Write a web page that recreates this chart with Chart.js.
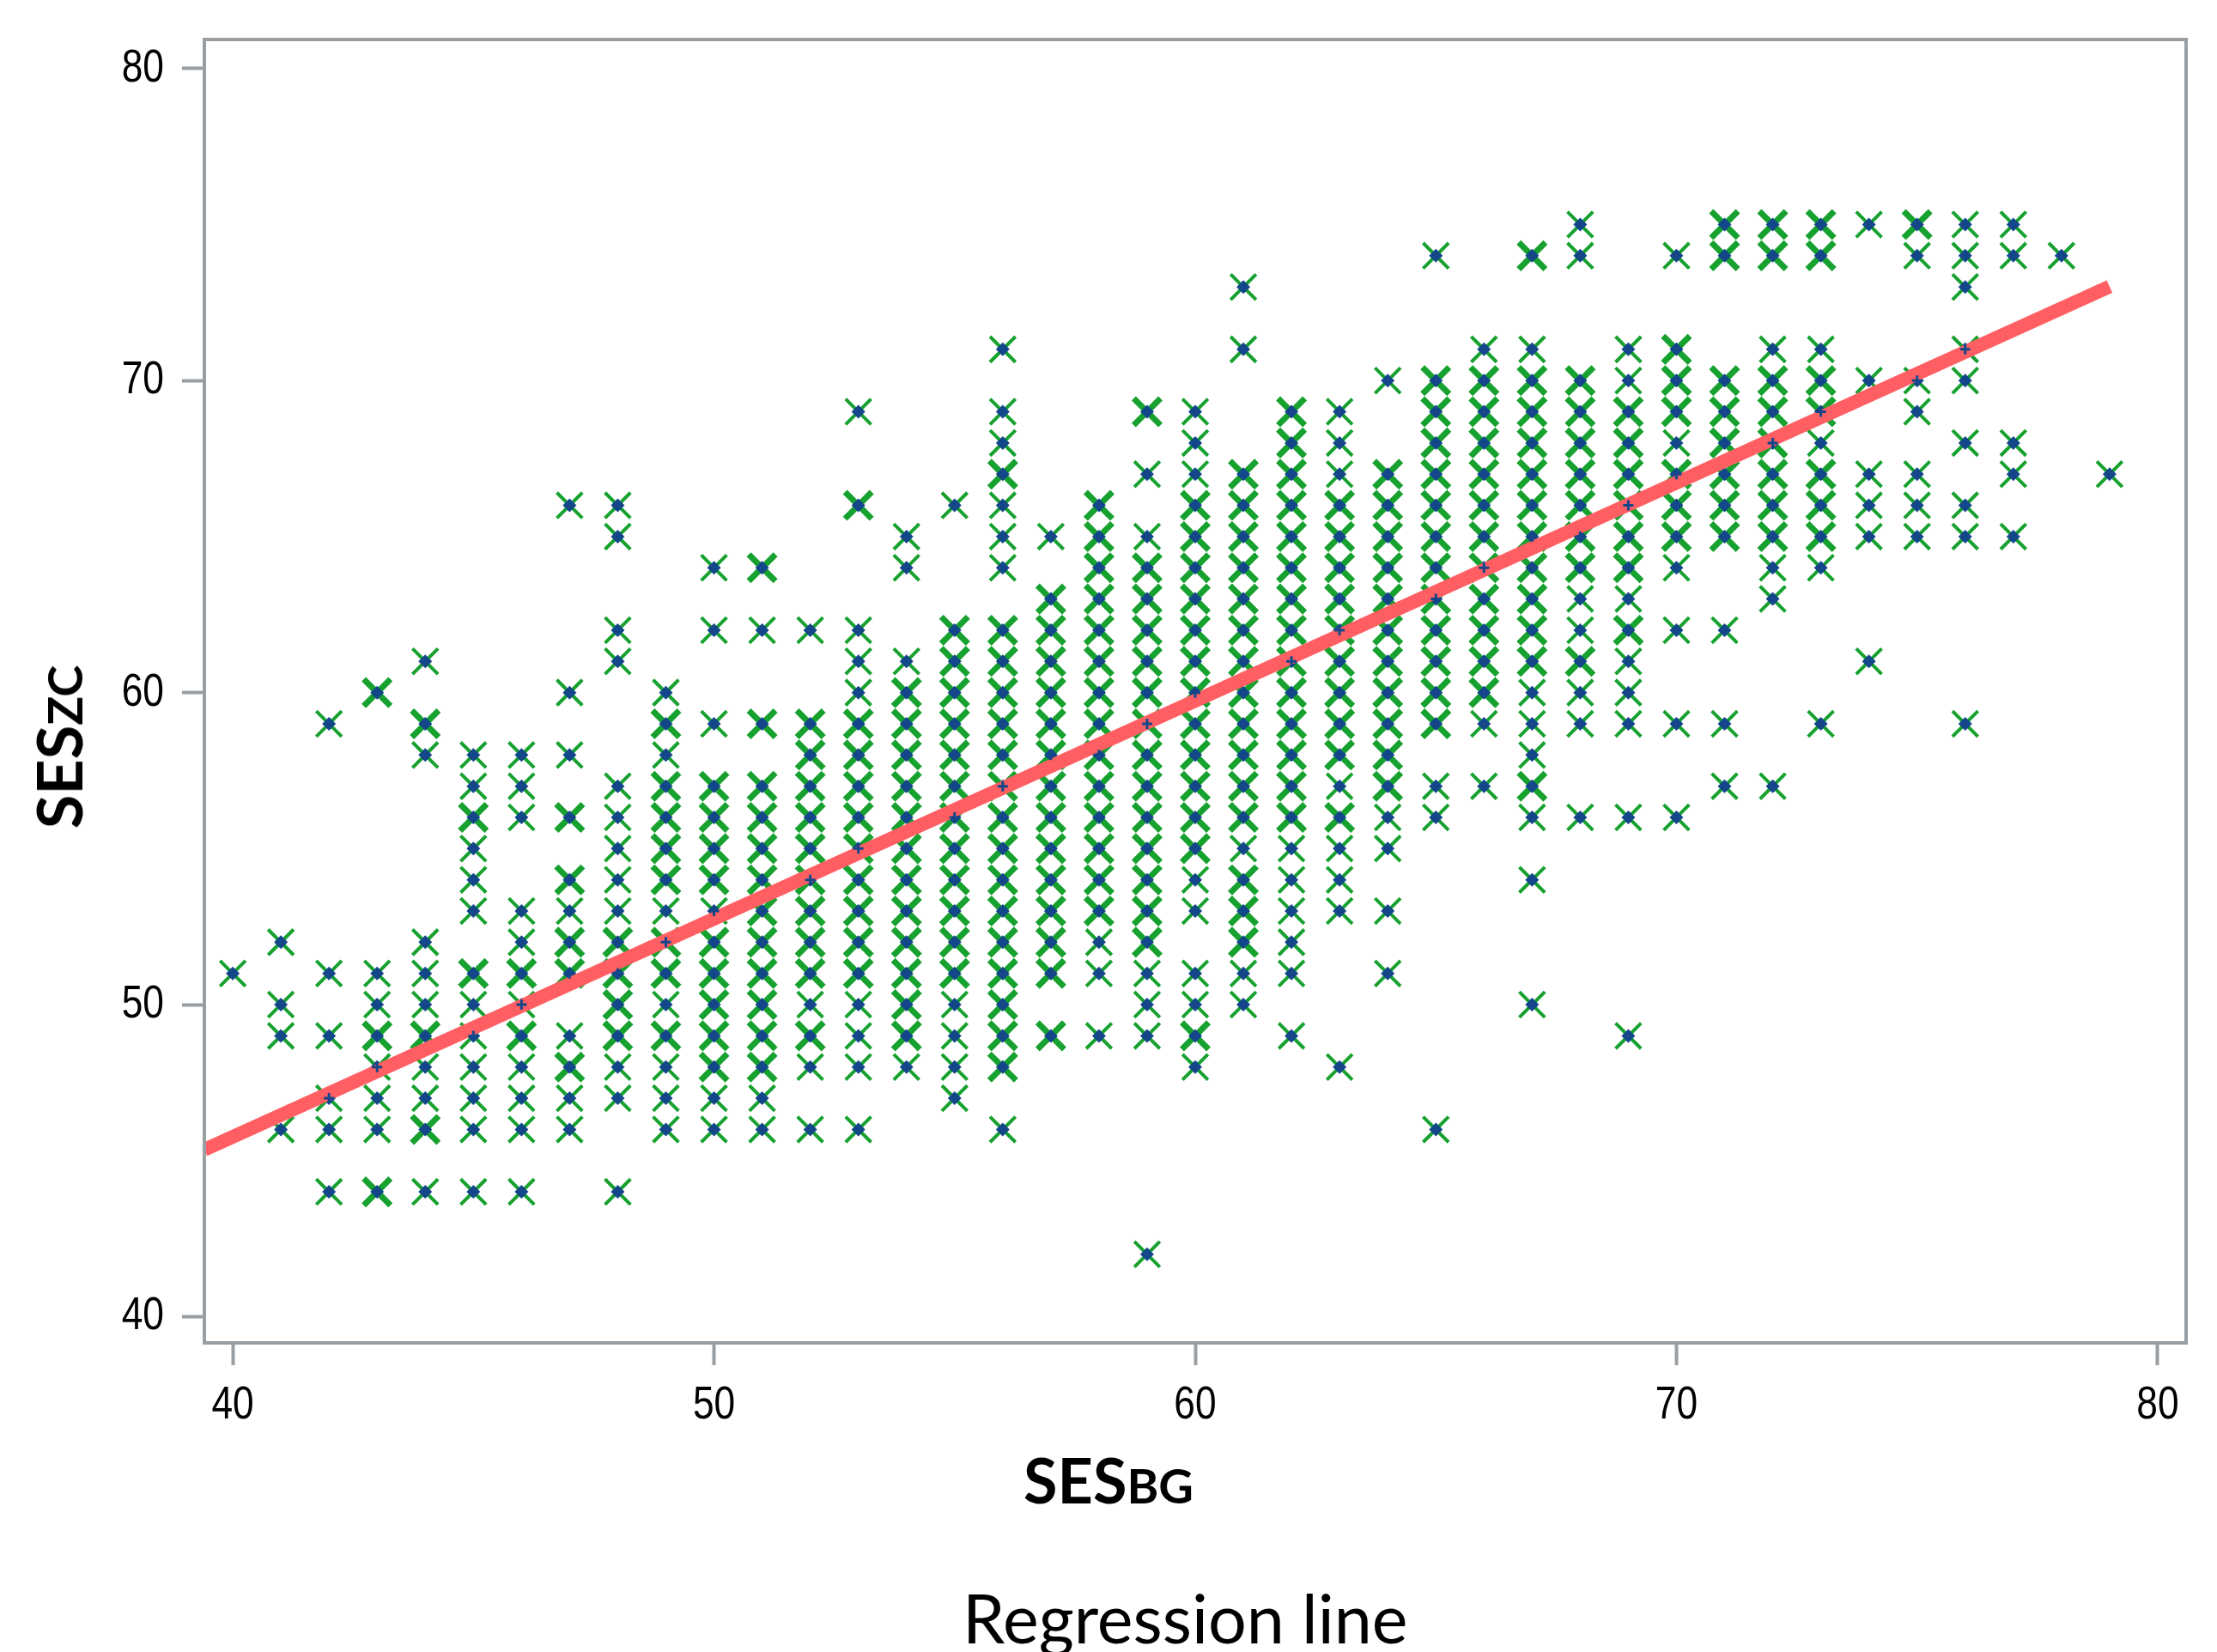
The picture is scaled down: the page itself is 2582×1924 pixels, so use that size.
<!DOCTYPE html>
<html lang="en">
  <head>
    <meta charset="UTF-8" />
    <title>Regression line</title>
    <style>
      html, body { margin: 0; padding: 0; background: #fff; overflow: hidden; }
      #wrap { position: relative; width: 2582px; height: 1924px; }
      .label { position: absolute; font-family: Lato, "Open Sans", sans-serif; color: #000; white-space: nowrap; }
      .axis { font-weight: 700; font-size: 72px; line-height: 1; }
      .axis span { font-size: 56px; }
      #xLabel { left: 1192px; top: 1687px; }
      #yLabel { left: 68px; top: 870px; transform: translate(-50%, -50%) rotate(-90deg); }
      #caption { left: 1121px; top: 1837px; font-size: 79px; line-height: 1.2; }
    </style>
  </head>
  <body>
    <div id="wrap">
      <canvas id="myChart" width="2582" height="1924"></canvas>
      <div class="label axis" id="xLabel">SES<span>BG</span></div>
      <div class="label axis" id="yLabel">SES<span>ZC</span></div>
      <div class="label" id="caption">Regression line</div>
    </div>

    <script src="https://cdn.jsdelivr.net/npm/chart.js@4"></script>
    <script>
      const xTicks = [40, 50, 60, 70, 80];
      const yTicks = [40, 50, 60, 70, 80];

      // one list of SESzc values per SESbg score, starting at columnStart
      const columnStart = 40;
      const lightY = [
        [51],
        [52, 50, 49, 46],
        [59, 51, 49, 47, 46, 44],
        [51, 50, 48, 47, 46],
        [61, 58, 52, 51, 50, 48, 47, 44],
        [58, 57, 55, 54, 53, 50, 49, 48, 47, 46, 44],
        [58, 57, 56, 53, 52, 50, 48, 47, 46, 44],
        [66, 60, 58, 53, 49, 47, 46],
        [66, 65, 62, 61, 57, 56, 55, 54, 53, 48, 47, 44],
        [60, 58, 53, 50, 48, 47, 46],
        [64, 62, 59, 53, 47, 46],
        [62, 47, 46],
        [62, 50, 48, 46],
        [69, 62, 61, 60, 50, 49, 48, 46],
        [65, 64, 61, 48],
        [66, 50, 49, 48, 47],
        [71, 69, 68, 66, 65, 64, 46],
        [65],
        [52, 51, 49],
        [67, 65, 51, 50, 49, 42],
        [69, 68, 67, 54, 53, 51, 50, 48],
        [73, 71, 55, 51, 50],
        [55, 54, 53, 52, 51, 49],
        [69, 68, 67, 57, 55, 54, 53, 48],
        [70, 56, 55, 53, 51],
        [74, 57, 56, 46],
        [71, 59, 57],
        [71, 60, 59, 58, 56, 54, 50],
        [75, 74, 63, 62, 60, 59, 56],
        [71, 70, 63, 61, 60, 59, 56, 49],
        [74, 68, 64, 62, 59, 56],
        [62, 59, 57],
        [71, 64, 63, 57],
        [71, 68, 64, 59],
        [75, 70, 67, 66, 65, 61],
        [74, 70, 69, 67, 66, 65],
        [75, 74, 73, 71, 70, 68, 66, 65, 59],
        [75, 74, 68, 67, 65],
        [74],
        [67]
      ];
      const heavyY = [
        [],
        [],
        [],
        [60, 49, 44],
        [59, 49, 46],
        [56, 51],
        [51, 49],
        [56, 54, 52, 51, 48],
        [52, 51, 50, 49],
        [59, 57, 56, 55, 54, 52, 51, 49],
        [57, 56, 55, 54, 52, 51, 50, 49, 48],
        [64, 59, 57, 56, 55, 54, 53, 52, 51, 50, 49, 48],
        [59, 58, 57, 56, 55, 54, 53, 52, 51, 49],
        [66, 59, 58, 57, 56, 55, 54, 53, 52, 51],
        [60, 59, 58, 57, 56, 55, 54, 53, 52, 51, 50, 49],
        [62, 61, 60, 59, 58, 57, 56, 55, 54, 53, 52, 51],
        [67, 62, 61, 60, 59, 58, 57, 56, 55, 54, 53, 52, 51, 50, 49, 48],
        [63, 62, 61, 60, 59, 58, 57, 56, 55, 54, 53, 52, 51, 49],
        [66, 65, 64, 63, 62, 61, 60, 59, 58, 57, 56, 55, 54, 53],
        [69, 64, 63, 62, 61, 60, 59, 58, 57, 56, 55, 54, 53, 52],
        [66, 65, 64, 63, 62, 61, 60, 59, 58, 57, 56, 55, 49],
        [67, 66, 65, 64, 63, 62, 61, 60, 59, 58, 57, 56, 54, 53, 52],
        [69, 68, 67, 66, 65, 64, 63, 62, 61, 60, 59, 58, 57, 56],
        [66, 65, 64, 63, 62, 61, 60, 59, 58, 56],
        [67, 66, 65, 64, 63, 62, 61, 60, 59, 58, 57],
        [70, 69, 68, 67, 66, 65, 64, 63, 62, 61, 60, 59],
        [70, 69, 68, 67, 66, 65, 64, 63, 62, 61, 60],
        [74, 70, 69, 68, 67, 66, 65, 64, 63, 62, 61, 57],
        [70, 69, 68, 67, 66, 65, 64, 61],
        [69, 68, 67, 66, 65, 64, 62],
        [71, 70, 69, 67, 66, 65],
        [75, 74, 70, 69, 68, 67, 66, 65],
        [75, 74, 70, 69, 68, 67, 66, 65],
        [75, 74, 70, 69, 67, 66, 65],
        [],
        [75],
        [],
        [],
        [],
        []
      ];

      const lineX = [39.41, 79];
      const lineY = [45.35, 73.01];

      const toPoints = columns =>
        columns.flatMap((ys, i) => ys.map(y => ({ x: columnStart + i, y })));

      const lightPoints = toPoints(lightY);
      const heavyPoints = toPoints(heavyY);
      const allPoints = lightPoints.concat(heavyPoints);
      const linePoints = lineX.map((x, i) => ({ x, y: lineY[i] }));

      const green = "#17a12f";
      const blue = "#14478a";
      const frameGrey = "#999ea2";

      // frame round the plot, and tick labels squeezed to look like the narrow original
      const framePlugin = {
        id: "frame",
        afterDraw(chart) {
          const { ctx, chartArea: a, scales } = chart;
          ctx.save();
          ctx.strokeStyle = frameGrey;
          ctx.lineWidth = 4;
          ctx.strokeRect(a.left, a.top, a.right - a.left, a.bottom - a.top);

          ctx.fillStyle = "#000";
          ctx.font = '54px "Liberation Sans"';
          ctx.textBaseline = "middle";
          const squeeze = 0.82;
          xTicks.forEach(v => {
            ctx.save();
            ctx.translate(scales.x.getPixelForValue(v), a.bottom + 73);
            ctx.scale(squeeze, 1);
            ctx.textAlign = "center";
            ctx.fillText(v, 0, 0);
            ctx.restore();
          });
          yTicks.forEach(v => {
            ctx.save();
            ctx.translate(a.left - 47, scales.y.getPixelForValue(v));
            ctx.scale(squeeze, 1);
            ctx.textAlign = "right";
            ctx.fillText(v, 0, 0);
            ctx.restore();
          });
          ctx.restore();
        }
      };

      const axisOptions = (min, max, ticks, size) => ({
        type: "linear",
        min,
        max,
        afterBuildTicks: scale => {
          scale.ticks = ticks.map(value => ({ value }));
        },
        afterFit: scale => {
          if (scale.isHorizontal()) scale.height = size;
          else scale.width = size;
        },
        grid: {
          drawOnChartArea: false,
          drawTicks: true,
          tickLength: 26,
          tickWidth: 4,
          tickColor: frameGrey
        },
        border: { display: false },
        ticks: { display: false }
      });

      const ctx = document.getElementById("myChart").getContext("2d");
      const chart = new Chart(ctx, {
        type: "scatter",
        data: {
          datasets: [
            {
              label: "Observations (few)",
              data: lightPoints,
              pointStyle: "crossRot",
              pointRadius: 21,
              pointBorderWidth: 4,
              pointBorderColor: green,
              order: 5
            },
            {
              label: "Observations (many)",
              data: heavyPoints,
              pointStyle: "crossRot",
              pointRadius: 22,
              pointBorderWidth: 7,
              pointBorderColor: green,
              order: 4
            },
            {
              label: "Centres",
              data: allPoints,
              pointStyle: "rectRot",
              pointRadius: 8,
              pointBorderWidth: 0,
              pointBackgroundColor: blue,
              order: 3
            },
            {
              label: "Regression line",
              type: "line",
              data: linePoints,
              borderColor: "#ff5f63",
              borderWidth: 16,
              pointRadius: 0,
              borderCapStyle: "butt",
              order: 2
            },
            {
              label: "Centres on top",
              data: allPoints,
              pointStyle: "cross",
              pointRadius: 6,
              pointBorderWidth: 3,
              pointBorderColor: blue,
              order: 1
            }
          ]
        },
        options: {
          responsive: false,
          animation: false,
          layout: { padding: { left: 0, top: 46, right: 36, bottom: 260 } },
          plugins: { legend: { display: false }, tooltip: { enabled: false } },
          scales: {
            x: axisOptions(39.41, 80.59, xTicks, 100),
            y: axisOptions(39.16, 80.93, yTicks, 238)
          }
        },
        plugins: [framePlugin]
      });
    </script>
  </body>
</html>
